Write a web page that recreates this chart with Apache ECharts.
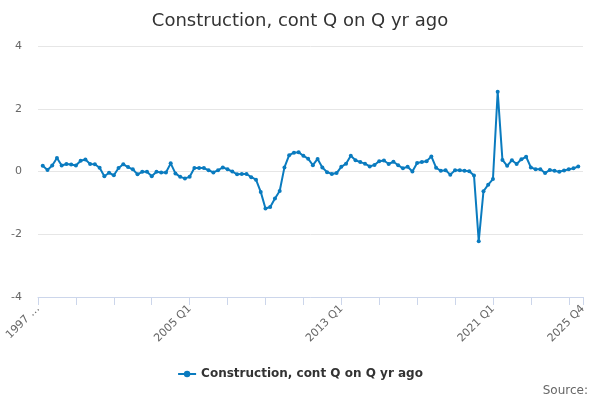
<!DOCTYPE html>
<html>
<head>
<meta charset="utf-8">
<script src="https://cdn.jsdelivr.net/npm/echarts@6/dist/echarts.min.js"></script>
<style>html,body{margin:0;padding:0;background:#fff}#c{width:600px;height:400px}</style>
</head>
<body>
<div id="c"></div>
<script>
const years = [];
for (let y = 1997; y <= 2025; y++) years.push(y);
const quarters = ['Q1', 'Q2', 'Q3', 'Q4'];
const categories = [];
years.forEach(y => quarters.forEach(q => categories.push(y + ' ' + q)));

const seriesName = 'Construction, cont Q on Q yr ago';
const values = [
  null, 0.18, 0.05, 0.19, 0.43, 0.19, 0.24, 0.22, 0.19, 0.34,
  0.38, 0.24, 0.23, 0.12, -0.15, -0.04, -0.12, 0.11, 0.23, 0.14,
  0.07, -0.09, -0.01, -0.01, -0.15, -0.01, -0.03, -0.03, 0.26, -0.06,
  -0.17, -0.22, -0.17, 0.11, 0.11, 0.11, 0.04, -0.03, 0.04, 0.13,
  0.07, 0.0, -0.09, -0.08, -0.08, -0.18, -0.26, -0.65, -1.18, -1.13,
  -0.86, -0.62, 0.13, 0.52, 0.6, 0.61, 0.5, 0.41, 0.2, 0.4,
  0.13, -0.02, -0.08, -0.05, 0.15, 0.25, 0.5, 0.36, 0.3, 0.25,
  0.16, 0.21, 0.33, 0.35, 0.24, 0.31, 0.2, 0.1, 0.15, 0.0,
  0.27, 0.3, 0.33, 0.48, 0.12, 0.02, 0.04, -0.1, 0.04, 0.04,
  0.02, 0.01, -0.13, -2.22, -0.63, -0.42, -0.24, 2.54, 0.37, 0.18,
  0.36, 0.24, 0.39, 0.47, 0.13, 0.07, 0.07, -0.05, 0.05, 0.02,
  -0.01, 0.03, 0.07, 0.1, 0.16, null
];
const yTicks = { min: -4, max: 4, interval: 2 };
const sourceText = 'Source:';

const last = categories.length - 1;
const chart = echarts.init(document.getElementById('c'), null, { renderer: 'canvas' });
chart.setOption({
  animation: false,
  textStyle: { fontFamily: 'DejaVu Sans' },
  title: {
    text: 'Construction, cont Q on Q yr ago',
    left: 'center', top: 7,
    textStyle: { fontSize: 18, fontWeight: 'normal', color: '#333333', fontFamily: 'DejaVu Sans' }
  },
  legend: {
    bottom: 15, left: 'center',
    itemWidth: 18, itemHeight: 8, itemGap: 10,
    textStyle: { fontSize: 12, fontWeight: 'bold', color: '#333333', fontFamily: 'DejaVu Sans' },
    data: [seriesName]
  },
  graphic: [{
    type: 'text', right: 12, bottom: 3,
    style: { text: sourceText, fontSize: 12, fill: '#666666', fontFamily: 'DejaVu Sans' }
  }],
  grid: { left: 38, right: 17, top: 46, bottom: 103 },
  xAxis: {
    type: 'category',
    data: categories,
    boundaryGap: false,
    axisLine: { onZero: false, lineStyle: { color: '#ccd6eb' } },
    axisTick: {
      length: 8,
      lineStyle: { color: '#ccd6eb' },
      interval: (i) => i % 8 === 0 || i === last
    },
    axisLabel: {
      rotate: 45, color: '#666666', fontSize: 11, margin: 10,
      interval: (i) => i % 32 === 0 || i === last,
      formatter: (v, i) => i === 0 ? v.split(' ')[0] + ' …' : v
    },
    splitLine: { show: false }
  },
  yAxis: {
    type: 'value', min: yTicks.min, max: yTicks.max, interval: yTicks.interval,
    axisLine: { show: false }, axisTick: { show: false },
    axisLabel: { color: '#666666', fontSize: 11, margin: 16 },
    splitLine: { lineStyle: { color: '#e6e6e6' } }
  },
  series: [{
    name: seriesName,
    type: 'line',
    data: values,
    color: '#0a7bbf',
    symbol: 'circle', symbolSize: 4, showSymbol: true, showAllSymbol: true,
    lineStyle: { width: 2 },
    connectNulls: false
  }]
});
</script>
</body>
</html>
